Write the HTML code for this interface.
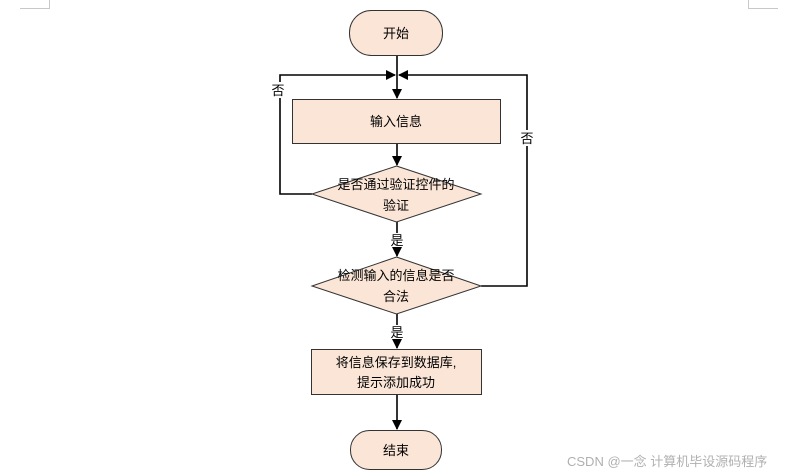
<!DOCTYPE html>
<html><head><meta charset="utf-8"><style>
html,body{margin:0;padding:0;background:#fff;}
svg{display:block;}
text{font-family:"Liberation Sans","Noto Sans CJK SC",sans-serif;font-size:13px;fill:#000;}
</style></head><body>
<svg width="795" height="475" viewBox="0 0 795 475" xmlns="http://www.w3.org/2000/svg">
<defs><marker id="a" markerWidth="10" markerHeight="10" refX="9" refY="5" orient="auto" markerUnits="userSpaceOnUse"><path d="M0,0 L10,5 L0,10 Z" fill="#000"/></marker></defs>
<g stroke="#c8c8c8" fill="none" stroke-width="1">
<path d="M20,8.5 H49.5 V0"/><path d="M778,8.5 H748.5 V0"/>
</g>
<g stroke="#000" stroke-width="1.6" fill="none">
<line x1="397" y1="55" x2="397" y2="98" marker-end="url(#a)"/>
<line x1="397" y1="144" x2="397" y2="165" marker-end="url(#a)"/>
<line x1="397" y1="222" x2="397" y2="233"/>
<line x1="397" y1="248" x2="397" y2="256" marker-end="url(#a)"/>
<line x1="397" y1="314" x2="397" y2="325"/>
<line x1="397" y1="340" x2="397" y2="348" marker-end="url(#a)"/>
<line x1="397" y1="395" x2="397" y2="429" marker-end="url(#a)"/>
<polyline points="312,194 280,194 280,75 395,75" marker-end="url(#a)"/>
<polyline points="481,286 527,286 527,75 399,75" marker-end="url(#a)"/>
</g>
<g stroke="#333" stroke-width="1" fill="#fae5d6">
<rect x="349.5" y="10.5" width="93" height="45" rx="22"/>
<rect x="292.5" y="99.5" width="208" height="44"/>
<polygon points="396.5,166 481,194 396.5,222 312,194"/>
<polygon points="396.5,257 481,286 396.5,314 312,286"/>
<rect x="311.5" y="349.5" width="170" height="45"/>
<rect x="350.5" y="430.5" width="91" height="39" rx="19"/>
</g>
<rect x="270" y="82" width="17" height="16" fill="#fff"/>
<rect x="519" y="130" width="17" height="16" fill="#fff"/>
<text x="396" y="38" text-anchor="middle">开始</text>
<text x="396" y="126" text-anchor="middle">输入信息</text>
<text x="396" y="189" text-anchor="middle">是否通过验证控件的</text>
<text x="396" y="210" text-anchor="middle">验证</text>
<text x="397" y="245" text-anchor="middle">是</text>
<text x="396" y="280" text-anchor="middle">检测输入的信息是否</text>
<text x="396" y="301" text-anchor="middle">合法</text>
<text x="397" y="337" text-anchor="middle">是</text>
<text x="396" y="367" text-anchor="middle">将信息保存到数据库,</text>
<text x="396" y="387" text-anchor="middle">提示添加成功</text>
<text x="396" y="455" text-anchor="middle">结束</text>
<text x="278" y="95" text-anchor="middle">否</text>
<text x="527" y="143" text-anchor="middle">否</text>
<text x="567" y="466" style="font-size:13px;fill:#b0b0b0">CSDN @一念 计算机毕设源码程序</text>
</svg>
</body></html>
